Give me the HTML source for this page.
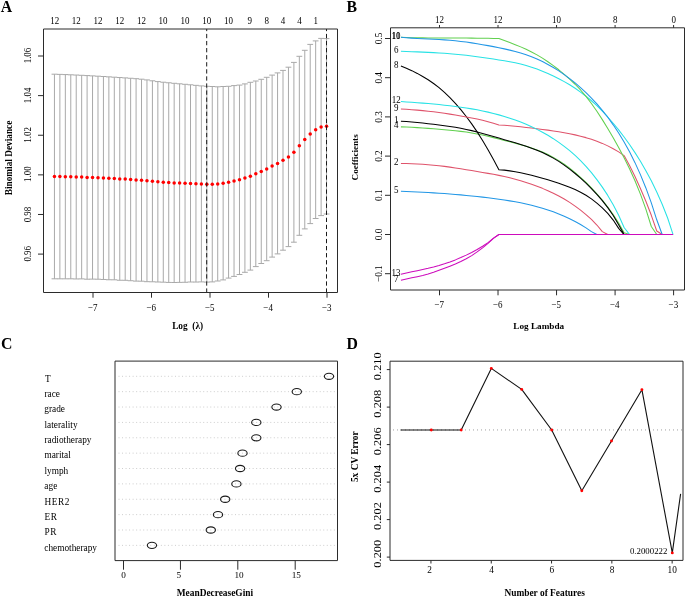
<!DOCTYPE html>
<html><head><meta charset="utf-8"><style>
html,body{margin:0;padding:0;background:#fff;overflow:hidden;}
svg{display:block;will-change:transform;}
text{font-family:"Liberation Serif", serif;}
</style></head><body>
<svg width="685" height="596" viewBox="0 0 685 596">
<rect width="685" height="596" fill="#fff"/>
<text x="0.65" y="11.50" font-size="15.8" font-weight="bold" fill="#000">A</text>
<text x="346.42" y="11.60" font-size="15.8" font-weight="bold" fill="#000">B</text>
<text x="1.06" y="349.10" font-size="15.8" font-weight="bold" fill="#000">C</text>
<text x="346.44" y="348.80" font-size="15.8" font-weight="bold" fill="#000">D</text>
<clipPath id="clipA"><rect x="43.5" y="29.0" width="294.0" height="263.5"/></clipPath>
<g clip-path="url(#clipA)">
<line x1="54.45" y1="74.20" x2="54.45" y2="278.80" stroke="#a9a9a9" stroke-width="1"/>
<line x1="51.55" y1="74.20" x2="57.35" y2="74.20" stroke="#a9a9a9" stroke-width="1"/>
<line x1="51.55" y1="278.80" x2="57.35" y2="278.80" stroke="#a9a9a9" stroke-width="1"/>
<line x1="59.89" y1="74.38" x2="59.89" y2="278.82" stroke="#a9a9a9" stroke-width="1"/>
<line x1="56.99" y1="74.38" x2="62.79" y2="74.38" stroke="#a9a9a9" stroke-width="1"/>
<line x1="56.99" y1="278.82" x2="62.79" y2="278.82" stroke="#a9a9a9" stroke-width="1"/>
<line x1="65.33" y1="74.58" x2="65.33" y2="278.82" stroke="#a9a9a9" stroke-width="1"/>
<line x1="62.43" y1="74.58" x2="68.23" y2="74.58" stroke="#a9a9a9" stroke-width="1"/>
<line x1="62.43" y1="278.82" x2="68.23" y2="278.82" stroke="#a9a9a9" stroke-width="1"/>
<line x1="70.78" y1="74.80" x2="70.78" y2="278.80" stroke="#a9a9a9" stroke-width="1"/>
<line x1="67.88" y1="74.80" x2="73.68" y2="74.80" stroke="#a9a9a9" stroke-width="1"/>
<line x1="67.88" y1="278.80" x2="73.68" y2="278.80" stroke="#a9a9a9" stroke-width="1"/>
<line x1="76.22" y1="75.04" x2="76.22" y2="278.96" stroke="#a9a9a9" stroke-width="1"/>
<line x1="73.32" y1="75.04" x2="79.12" y2="75.04" stroke="#a9a9a9" stroke-width="1"/>
<line x1="73.32" y1="278.96" x2="79.12" y2="278.96" stroke="#a9a9a9" stroke-width="1"/>
<line x1="81.66" y1="75.31" x2="81.66" y2="278.89" stroke="#a9a9a9" stroke-width="1"/>
<line x1="78.76" y1="75.31" x2="84.56" y2="75.31" stroke="#a9a9a9" stroke-width="1"/>
<line x1="78.76" y1="278.89" x2="84.56" y2="278.89" stroke="#a9a9a9" stroke-width="1"/>
<line x1="87.10" y1="75.59" x2="87.10" y2="279.21" stroke="#a9a9a9" stroke-width="1"/>
<line x1="84.20" y1="75.59" x2="90.00" y2="75.59" stroke="#a9a9a9" stroke-width="1"/>
<line x1="84.20" y1="279.21" x2="90.00" y2="279.21" stroke="#a9a9a9" stroke-width="1"/>
<line x1="92.54" y1="75.88" x2="92.54" y2="279.12" stroke="#a9a9a9" stroke-width="1"/>
<line x1="89.64" y1="75.88" x2="95.44" y2="75.88" stroke="#a9a9a9" stroke-width="1"/>
<line x1="89.64" y1="279.12" x2="95.44" y2="279.12" stroke="#a9a9a9" stroke-width="1"/>
<line x1="97.99" y1="76.19" x2="97.99" y2="279.21" stroke="#a9a9a9" stroke-width="1"/>
<line x1="95.09" y1="76.19" x2="100.89" y2="76.19" stroke="#a9a9a9" stroke-width="1"/>
<line x1="95.09" y1="279.21" x2="100.89" y2="279.21" stroke="#a9a9a9" stroke-width="1"/>
<line x1="103.43" y1="76.52" x2="103.43" y2="279.48" stroke="#a9a9a9" stroke-width="1"/>
<line x1="100.53" y1="76.52" x2="106.33" y2="76.52" stroke="#a9a9a9" stroke-width="1"/>
<line x1="100.53" y1="279.48" x2="106.33" y2="279.48" stroke="#a9a9a9" stroke-width="1"/>
<line x1="108.87" y1="76.85" x2="108.87" y2="279.75" stroke="#a9a9a9" stroke-width="1"/>
<line x1="105.97" y1="76.85" x2="111.77" y2="76.85" stroke="#a9a9a9" stroke-width="1"/>
<line x1="105.97" y1="279.75" x2="111.77" y2="279.75" stroke="#a9a9a9" stroke-width="1"/>
<line x1="114.31" y1="77.19" x2="114.31" y2="279.81" stroke="#a9a9a9" stroke-width="1"/>
<line x1="111.41" y1="77.19" x2="117.21" y2="77.19" stroke="#a9a9a9" stroke-width="1"/>
<line x1="111.41" y1="279.81" x2="117.21" y2="279.81" stroke="#a9a9a9" stroke-width="1"/>
<line x1="119.75" y1="77.54" x2="119.75" y2="280.26" stroke="#a9a9a9" stroke-width="1"/>
<line x1="116.85" y1="77.54" x2="122.65" y2="77.54" stroke="#a9a9a9" stroke-width="1"/>
<line x1="116.85" y1="280.26" x2="122.65" y2="280.26" stroke="#a9a9a9" stroke-width="1"/>
<line x1="125.20" y1="77.90" x2="125.20" y2="280.30" stroke="#a9a9a9" stroke-width="1"/>
<line x1="122.30" y1="77.90" x2="128.10" y2="77.90" stroke="#a9a9a9" stroke-width="1"/>
<line x1="122.30" y1="280.30" x2="128.10" y2="280.30" stroke="#a9a9a9" stroke-width="1"/>
<line x1="130.64" y1="78.27" x2="130.64" y2="280.73" stroke="#a9a9a9" stroke-width="1"/>
<line x1="127.74" y1="78.27" x2="133.54" y2="78.27" stroke="#a9a9a9" stroke-width="1"/>
<line x1="127.74" y1="280.73" x2="133.54" y2="280.73" stroke="#a9a9a9" stroke-width="1"/>
<line x1="136.08" y1="78.69" x2="136.08" y2="281.11" stroke="#a9a9a9" stroke-width="1"/>
<line x1="133.18" y1="78.69" x2="138.98" y2="78.69" stroke="#a9a9a9" stroke-width="1"/>
<line x1="133.18" y1="281.11" x2="138.98" y2="281.11" stroke="#a9a9a9" stroke-width="1"/>
<line x1="141.52" y1="79.20" x2="141.52" y2="281.20" stroke="#a9a9a9" stroke-width="1"/>
<line x1="138.62" y1="79.20" x2="144.42" y2="79.20" stroke="#a9a9a9" stroke-width="1"/>
<line x1="138.62" y1="281.20" x2="144.42" y2="281.20" stroke="#a9a9a9" stroke-width="1"/>
<line x1="146.96" y1="79.92" x2="146.96" y2="281.68" stroke="#a9a9a9" stroke-width="1"/>
<line x1="144.06" y1="79.92" x2="149.86" y2="79.92" stroke="#a9a9a9" stroke-width="1"/>
<line x1="144.06" y1="281.68" x2="149.86" y2="281.68" stroke="#a9a9a9" stroke-width="1"/>
<line x1="152.41" y1="80.81" x2="152.41" y2="281.79" stroke="#a9a9a9" stroke-width="1"/>
<line x1="149.51" y1="80.81" x2="155.31" y2="80.81" stroke="#a9a9a9" stroke-width="1"/>
<line x1="149.51" y1="281.79" x2="155.31" y2="281.79" stroke="#a9a9a9" stroke-width="1"/>
<line x1="157.85" y1="81.60" x2="157.85" y2="282.00" stroke="#a9a9a9" stroke-width="1"/>
<line x1="154.95" y1="81.60" x2="160.75" y2="81.60" stroke="#a9a9a9" stroke-width="1"/>
<line x1="154.95" y1="282.00" x2="160.75" y2="282.00" stroke="#a9a9a9" stroke-width="1"/>
<line x1="163.29" y1="82.22" x2="163.29" y2="282.18" stroke="#a9a9a9" stroke-width="1"/>
<line x1="160.39" y1="82.22" x2="166.19" y2="82.22" stroke="#a9a9a9" stroke-width="1"/>
<line x1="160.39" y1="282.18" x2="166.19" y2="282.18" stroke="#a9a9a9" stroke-width="1"/>
<line x1="168.73" y1="82.77" x2="168.73" y2="282.43" stroke="#a9a9a9" stroke-width="1"/>
<line x1="165.83" y1="82.77" x2="171.63" y2="82.77" stroke="#a9a9a9" stroke-width="1"/>
<line x1="165.83" y1="282.43" x2="171.63" y2="282.43" stroke="#a9a9a9" stroke-width="1"/>
<line x1="174.17" y1="83.30" x2="174.17" y2="282.50" stroke="#a9a9a9" stroke-width="1"/>
<line x1="171.27" y1="83.30" x2="177.07" y2="83.30" stroke="#a9a9a9" stroke-width="1"/>
<line x1="171.27" y1="282.50" x2="177.07" y2="282.50" stroke="#a9a9a9" stroke-width="1"/>
<line x1="179.62" y1="83.81" x2="179.62" y2="282.39" stroke="#a9a9a9" stroke-width="1"/>
<line x1="176.72" y1="83.81" x2="182.52" y2="83.81" stroke="#a9a9a9" stroke-width="1"/>
<line x1="176.72" y1="282.39" x2="182.52" y2="282.39" stroke="#a9a9a9" stroke-width="1"/>
<line x1="185.06" y1="84.31" x2="185.06" y2="282.29" stroke="#a9a9a9" stroke-width="1"/>
<line x1="182.16" y1="84.31" x2="187.96" y2="84.31" stroke="#a9a9a9" stroke-width="1"/>
<line x1="182.16" y1="282.29" x2="187.96" y2="282.29" stroke="#a9a9a9" stroke-width="1"/>
<line x1="190.50" y1="84.80" x2="190.50" y2="282.00" stroke="#a9a9a9" stroke-width="1"/>
<line x1="187.60" y1="84.80" x2="193.40" y2="84.80" stroke="#a9a9a9" stroke-width="1"/>
<line x1="187.60" y1="282.00" x2="193.40" y2="282.00" stroke="#a9a9a9" stroke-width="1"/>
<line x1="195.94" y1="85.35" x2="195.94" y2="282.05" stroke="#a9a9a9" stroke-width="1"/>
<line x1="193.04" y1="85.35" x2="198.84" y2="85.35" stroke="#a9a9a9" stroke-width="1"/>
<line x1="193.04" y1="282.05" x2="198.84" y2="282.05" stroke="#a9a9a9" stroke-width="1"/>
<line x1="201.38" y1="85.90" x2="201.38" y2="281.90" stroke="#a9a9a9" stroke-width="1"/>
<line x1="198.48" y1="85.90" x2="204.28" y2="85.90" stroke="#a9a9a9" stroke-width="1"/>
<line x1="198.48" y1="281.90" x2="204.28" y2="281.90" stroke="#a9a9a9" stroke-width="1"/>
<line x1="206.83" y1="86.30" x2="206.83" y2="282.10" stroke="#a9a9a9" stroke-width="1"/>
<line x1="203.93" y1="86.30" x2="209.73" y2="86.30" stroke="#a9a9a9" stroke-width="1"/>
<line x1="203.93" y1="282.10" x2="209.73" y2="282.10" stroke="#a9a9a9" stroke-width="1"/>
<line x1="212.27" y1="86.50" x2="212.27" y2="281.90" stroke="#a9a9a9" stroke-width="1"/>
<line x1="209.37" y1="86.50" x2="215.17" y2="86.50" stroke="#a9a9a9" stroke-width="1"/>
<line x1="209.37" y1="281.90" x2="215.17" y2="281.90" stroke="#a9a9a9" stroke-width="1"/>
<line x1="217.71" y1="86.80" x2="217.71" y2="281.00" stroke="#a9a9a9" stroke-width="1"/>
<line x1="214.81" y1="86.80" x2="220.61" y2="86.80" stroke="#a9a9a9" stroke-width="1"/>
<line x1="214.81" y1="281.00" x2="220.61" y2="281.00" stroke="#a9a9a9" stroke-width="1"/>
<line x1="223.15" y1="86.50" x2="223.15" y2="279.90" stroke="#a9a9a9" stroke-width="1"/>
<line x1="220.25" y1="86.50" x2="226.05" y2="86.50" stroke="#a9a9a9" stroke-width="1"/>
<line x1="220.25" y1="279.90" x2="226.05" y2="279.90" stroke="#a9a9a9" stroke-width="1"/>
<line x1="228.59" y1="86.30" x2="228.59" y2="278.10" stroke="#a9a9a9" stroke-width="1"/>
<line x1="225.69" y1="86.30" x2="231.49" y2="86.30" stroke="#a9a9a9" stroke-width="1"/>
<line x1="225.69" y1="278.10" x2="231.49" y2="278.10" stroke="#a9a9a9" stroke-width="1"/>
<line x1="234.04" y1="85.60" x2="234.04" y2="276.40" stroke="#a9a9a9" stroke-width="1"/>
<line x1="231.14" y1="85.60" x2="236.94" y2="85.60" stroke="#a9a9a9" stroke-width="1"/>
<line x1="231.14" y1="276.40" x2="236.94" y2="276.40" stroke="#a9a9a9" stroke-width="1"/>
<line x1="239.48" y1="85.10" x2="239.48" y2="274.50" stroke="#a9a9a9" stroke-width="1"/>
<line x1="236.58" y1="85.10" x2="242.38" y2="85.10" stroke="#a9a9a9" stroke-width="1"/>
<line x1="236.58" y1="274.50" x2="242.38" y2="274.50" stroke="#a9a9a9" stroke-width="1"/>
<line x1="244.92" y1="83.90" x2="244.92" y2="272.30" stroke="#a9a9a9" stroke-width="1"/>
<line x1="242.02" y1="83.90" x2="247.82" y2="83.90" stroke="#a9a9a9" stroke-width="1"/>
<line x1="242.02" y1="272.30" x2="247.82" y2="272.30" stroke="#a9a9a9" stroke-width="1"/>
<line x1="250.36" y1="82.30" x2="250.36" y2="270.10" stroke="#a9a9a9" stroke-width="1"/>
<line x1="247.46" y1="82.30" x2="253.26" y2="82.30" stroke="#a9a9a9" stroke-width="1"/>
<line x1="247.46" y1="270.10" x2="253.26" y2="270.10" stroke="#a9a9a9" stroke-width="1"/>
<line x1="255.80" y1="81.00" x2="255.80" y2="266.60" stroke="#a9a9a9" stroke-width="1"/>
<line x1="252.90" y1="81.00" x2="258.70" y2="81.00" stroke="#a9a9a9" stroke-width="1"/>
<line x1="252.90" y1="266.60" x2="258.70" y2="266.60" stroke="#a9a9a9" stroke-width="1"/>
<line x1="261.25" y1="79.30" x2="261.25" y2="263.50" stroke="#a9a9a9" stroke-width="1"/>
<line x1="258.35" y1="79.30" x2="264.15" y2="79.30" stroke="#a9a9a9" stroke-width="1"/>
<line x1="258.35" y1="263.50" x2="264.15" y2="263.50" stroke="#a9a9a9" stroke-width="1"/>
<line x1="266.69" y1="77.30" x2="266.69" y2="260.70" stroke="#a9a9a9" stroke-width="1"/>
<line x1="263.79" y1="77.30" x2="269.59" y2="77.30" stroke="#a9a9a9" stroke-width="1"/>
<line x1="263.79" y1="260.70" x2="269.59" y2="260.70" stroke="#a9a9a9" stroke-width="1"/>
<line x1="272.13" y1="75.10" x2="272.13" y2="257.10" stroke="#a9a9a9" stroke-width="1"/>
<line x1="269.23" y1="75.10" x2="275.03" y2="75.10" stroke="#a9a9a9" stroke-width="1"/>
<line x1="269.23" y1="257.10" x2="275.03" y2="257.10" stroke="#a9a9a9" stroke-width="1"/>
<line x1="277.57" y1="72.90" x2="277.57" y2="253.90" stroke="#a9a9a9" stroke-width="1"/>
<line x1="274.67" y1="72.90" x2="280.47" y2="72.90" stroke="#a9a9a9" stroke-width="1"/>
<line x1="274.67" y1="253.90" x2="280.47" y2="253.90" stroke="#a9a9a9" stroke-width="1"/>
<line x1="283.01" y1="70.40" x2="283.01" y2="250.20" stroke="#a9a9a9" stroke-width="1"/>
<line x1="280.11" y1="70.40" x2="285.91" y2="70.40" stroke="#a9a9a9" stroke-width="1"/>
<line x1="280.11" y1="250.20" x2="285.91" y2="250.20" stroke="#a9a9a9" stroke-width="1"/>
<line x1="288.46" y1="67.20" x2="288.46" y2="246.60" stroke="#a9a9a9" stroke-width="1"/>
<line x1="285.56" y1="67.20" x2="291.36" y2="67.20" stroke="#a9a9a9" stroke-width="1"/>
<line x1="285.56" y1="246.60" x2="291.36" y2="246.60" stroke="#a9a9a9" stroke-width="1"/>
<line x1="293.90" y1="62.40" x2="293.90" y2="242.20" stroke="#a9a9a9" stroke-width="1"/>
<line x1="291.00" y1="62.40" x2="296.80" y2="62.40" stroke="#a9a9a9" stroke-width="1"/>
<line x1="291.00" y1="242.20" x2="296.80" y2="242.20" stroke="#a9a9a9" stroke-width="1"/>
<line x1="299.34" y1="56.30" x2="299.34" y2="235.30" stroke="#a9a9a9" stroke-width="1"/>
<line x1="296.44" y1="56.30" x2="302.24" y2="56.30" stroke="#a9a9a9" stroke-width="1"/>
<line x1="296.44" y1="235.30" x2="302.24" y2="235.30" stroke="#a9a9a9" stroke-width="1"/>
<line x1="304.78" y1="50.30" x2="304.78" y2="228.90" stroke="#a9a9a9" stroke-width="1"/>
<line x1="301.88" y1="50.30" x2="307.68" y2="50.30" stroke="#a9a9a9" stroke-width="1"/>
<line x1="301.88" y1="228.90" x2="307.68" y2="228.90" stroke="#a9a9a9" stroke-width="1"/>
<line x1="310.22" y1="44.40" x2="310.22" y2="223.60" stroke="#a9a9a9" stroke-width="1"/>
<line x1="307.32" y1="44.40" x2="313.12" y2="44.40" stroke="#a9a9a9" stroke-width="1"/>
<line x1="307.32" y1="223.60" x2="313.12" y2="223.60" stroke="#a9a9a9" stroke-width="1"/>
<line x1="315.67" y1="40.90" x2="315.67" y2="218.50" stroke="#a9a9a9" stroke-width="1"/>
<line x1="312.77" y1="40.90" x2="318.57" y2="40.90" stroke="#a9a9a9" stroke-width="1"/>
<line x1="312.77" y1="218.50" x2="318.57" y2="218.50" stroke="#a9a9a9" stroke-width="1"/>
<line x1="321.11" y1="38.40" x2="321.11" y2="215.60" stroke="#a9a9a9" stroke-width="1"/>
<line x1="318.21" y1="38.40" x2="324.01" y2="38.40" stroke="#a9a9a9" stroke-width="1"/>
<line x1="318.21" y1="215.60" x2="324.01" y2="215.60" stroke="#a9a9a9" stroke-width="1"/>
<line x1="326.55" y1="38.60" x2="326.55" y2="214.00" stroke="#a9a9a9" stroke-width="1"/>
<line x1="323.65" y1="38.60" x2="329.45" y2="38.60" stroke="#a9a9a9" stroke-width="1"/>
<line x1="323.65" y1="214.00" x2="329.45" y2="214.00" stroke="#a9a9a9" stroke-width="1"/>
<circle cx="54.45" cy="176.50" r="1.75" fill="#f00"/>
<circle cx="59.89" cy="176.60" r="1.75" fill="#f00"/>
<circle cx="65.33" cy="176.70" r="1.75" fill="#f00"/>
<circle cx="70.78" cy="176.80" r="1.75" fill="#f00"/>
<circle cx="76.22" cy="177.00" r="1.75" fill="#f00"/>
<circle cx="81.66" cy="177.10" r="1.75" fill="#f00"/>
<circle cx="87.10" cy="177.40" r="1.75" fill="#f00"/>
<circle cx="92.54" cy="177.50" r="1.75" fill="#f00"/>
<circle cx="97.99" cy="177.70" r="1.75" fill="#f00"/>
<circle cx="103.43" cy="178.00" r="1.75" fill="#f00"/>
<circle cx="108.87" cy="178.30" r="1.75" fill="#f00"/>
<circle cx="114.31" cy="178.50" r="1.75" fill="#f00"/>
<circle cx="119.75" cy="178.90" r="1.75" fill="#f00"/>
<circle cx="125.20" cy="179.10" r="1.75" fill="#f00"/>
<circle cx="130.64" cy="179.50" r="1.75" fill="#f00"/>
<circle cx="136.08" cy="179.90" r="1.75" fill="#f00"/>
<circle cx="141.52" cy="180.20" r="1.75" fill="#f00"/>
<circle cx="146.96" cy="180.80" r="1.75" fill="#f00"/>
<circle cx="152.41" cy="181.30" r="1.75" fill="#f00"/>
<circle cx="157.85" cy="181.80" r="1.75" fill="#f00"/>
<circle cx="163.29" cy="182.20" r="1.75" fill="#f00"/>
<circle cx="168.73" cy="182.60" r="1.75" fill="#f00"/>
<circle cx="174.17" cy="182.90" r="1.75" fill="#f00"/>
<circle cx="179.62" cy="183.10" r="1.75" fill="#f00"/>
<circle cx="185.06" cy="183.30" r="1.75" fill="#f00"/>
<circle cx="190.50" cy="183.40" r="1.75" fill="#f00"/>
<circle cx="195.94" cy="183.70" r="1.75" fill="#f00"/>
<circle cx="201.38" cy="183.90" r="1.75" fill="#f00"/>
<circle cx="206.83" cy="184.20" r="1.75" fill="#f00"/>
<circle cx="212.27" cy="184.20" r="1.75" fill="#f00"/>
<circle cx="217.71" cy="183.90" r="1.75" fill="#f00"/>
<circle cx="223.15" cy="183.20" r="1.75" fill="#f00"/>
<circle cx="228.59" cy="182.20" r="1.75" fill="#f00"/>
<circle cx="234.04" cy="181.00" r="1.75" fill="#f00"/>
<circle cx="239.48" cy="179.80" r="1.75" fill="#f00"/>
<circle cx="244.92" cy="178.10" r="1.75" fill="#f00"/>
<circle cx="250.36" cy="176.20" r="1.75" fill="#f00"/>
<circle cx="255.80" cy="173.80" r="1.75" fill="#f00"/>
<circle cx="261.25" cy="171.40" r="1.75" fill="#f00"/>
<circle cx="266.69" cy="169.00" r="1.75" fill="#f00"/>
<circle cx="272.13" cy="166.10" r="1.75" fill="#f00"/>
<circle cx="277.57" cy="163.40" r="1.75" fill="#f00"/>
<circle cx="283.01" cy="160.30" r="1.75" fill="#f00"/>
<circle cx="288.46" cy="156.90" r="1.75" fill="#f00"/>
<circle cx="293.90" cy="152.30" r="1.75" fill="#f00"/>
<circle cx="299.34" cy="145.80" r="1.75" fill="#f00"/>
<circle cx="304.78" cy="139.60" r="1.75" fill="#f00"/>
<circle cx="310.22" cy="134.00" r="1.75" fill="#f00"/>
<circle cx="315.67" cy="129.70" r="1.75" fill="#f00"/>
<circle cx="321.11" cy="127.00" r="1.75" fill="#f00"/>
<circle cx="326.55" cy="126.30" r="1.75" fill="#f00"/>
<line x1="206.70" y1="26.83" x2="206.70" y2="294.00" stroke="#1a1a1a" stroke-width="1" stroke-dasharray="4.3 2.77"/>
<line x1="326.50" y1="26.83" x2="326.50" y2="294.00" stroke="#1a1a1a" stroke-width="1" stroke-dasharray="4.3 2.77"/>
</g>
<path d="M43.50,29.00H337.50V292.50H43.50Z" fill="none" stroke="#2b2b2b" stroke-width="1"/>
<line x1="38.00" y1="254.10" x2="43.50" y2="254.10" stroke="#2b2b2b" stroke-width="1"/>
<text transform="translate(31.20,261.62) rotate(-90) scale(1,1.08)" font-size="8.9" fill="#000">0.96</text>
<line x1="38.00" y1="214.48" x2="43.50" y2="214.48" stroke="#2b2b2b" stroke-width="1"/>
<text transform="translate(31.20,222.37) rotate(-90) scale(1,1.08)" font-size="8.9" fill="#000">0.98</text>
<line x1="38.00" y1="174.86" x2="43.50" y2="174.86" stroke="#2b2b2b" stroke-width="1"/>
<text transform="translate(31.20,181.97) rotate(-90) scale(1,1.08)" font-size="8.9" fill="#000">1.00</text>
<line x1="38.00" y1="135.24" x2="43.50" y2="135.24" stroke="#2b2b2b" stroke-width="1"/>
<text transform="translate(31.20,142.67) rotate(-90) scale(1,1.08)" font-size="8.9" fill="#000">1.02</text>
<line x1="38.00" y1="95.62" x2="43.50" y2="95.62" stroke="#2b2b2b" stroke-width="1"/>
<text transform="translate(31.20,103.23) rotate(-90) scale(1,1.08)" font-size="8.9" fill="#000">1.04</text>
<line x1="38.00" y1="56.00" x2="43.50" y2="56.00" stroke="#2b2b2b" stroke-width="1"/>
<text transform="translate(31.20,63.30) rotate(-90) scale(1,1.08)" font-size="8.9" fill="#000">1.06</text>
<line x1="93.00" y1="292.50" x2="93.00" y2="297.70" stroke="#2b2b2b" stroke-width="1"/>
<text transform="translate(88.37,310.70) scale(1.0,1.12)" x="-0.45" font-size="9.0" fill="#000">−7</text>
<line x1="151.50" y1="292.50" x2="151.50" y2="297.70" stroke="#2b2b2b" stroke-width="1"/>
<text transform="translate(146.87,310.70) scale(1.0,1.12)" x="-0.45" font-size="9.0" fill="#000">−6</text>
<line x1="210.00" y1="292.50" x2="210.00" y2="297.70" stroke="#2b2b2b" stroke-width="1"/>
<text transform="translate(205.41,310.70) scale(1.0,1.12)" x="-0.45" font-size="9.0" fill="#000">−5</text>
<line x1="268.50" y1="292.50" x2="268.50" y2="297.70" stroke="#2b2b2b" stroke-width="1"/>
<text transform="translate(263.81,310.70) scale(1.0,1.12)" x="-0.45" font-size="9.0" fill="#000">−4</text>
<line x1="327.00" y1="292.50" x2="327.00" y2="297.70" stroke="#2b2b2b" stroke-width="1"/>
<text transform="translate(322.41,310.70) scale(1.0,1.12)" x="-0.45" font-size="9.0" fill="#000">−3</text>
<text transform="translate(50.94,23.70) scale(1.0,1.12)" x="-0.79" font-size="9.0" fill="#000">12</text>
<text transform="translate(72.64,23.70) scale(1.0,1.12)" x="-0.79" font-size="9.0" fill="#000">12</text>
<text transform="translate(94.34,23.70) scale(1.0,1.12)" x="-0.79" font-size="9.0" fill="#000">12</text>
<text transform="translate(116.04,23.70) scale(1.0,1.12)" x="-0.79" font-size="9.0" fill="#000">12</text>
<text transform="translate(137.74,23.70) scale(1.0,1.12)" x="-0.79" font-size="9.0" fill="#000">12</text>
<text transform="translate(159.37,23.70) scale(1.0,1.12)" x="-0.79" font-size="9.0" fill="#000">10</text>
<text transform="translate(181.17,23.70) scale(1.0,1.12)" x="-0.79" font-size="9.0" fill="#000">10</text>
<text transform="translate(202.97,23.70) scale(1.0,1.12)" x="-0.79" font-size="9.0" fill="#000">10</text>
<text transform="translate(224.77,23.70) scale(1.0,1.12)" x="-0.79" font-size="9.0" fill="#000">10</text>
<text transform="translate(247.78,23.70) scale(1.0,1.12)" x="-0.29" font-size="9.0" fill="#000">9</text>
<text transform="translate(264.79,23.70) scale(1.0,1.12)" x="-0.34" font-size="9.0" fill="#000">8</text>
<text transform="translate(281.01,23.70) scale(1.0,1.12)" x="-0.18" font-size="9.0" fill="#000">4</text>
<text transform="translate(297.41,23.70) scale(1.0,1.12)" x="-0.18" font-size="9.0" fill="#000">4</text>
<text transform="translate(314.22,23.70) scale(1.0,1.12)" x="-0.79" font-size="9.0" fill="#000">1</text>
<text transform="translate(11.80,195.28) rotate(-90)" font-size="9.3" font-weight="bold" fill="#000">Binomial Deviance</text>
<text x="172.17" y="329.40" font-size="9.3" font-weight="bold" fill="#000">Log  (λ)</text>
<clipPath id="clipB"><rect x="390.5" y="27.8" width="294.0" height="262.2"/></clipPath>
<g clip-path="url(#clipB)">
<polyline points="400.93,126.86 406.37,127.03 411.82,127.29 417.26,127.61 422.70,127.97 428.14,128.36 433.59,128.78 439.03,129.22 444.47,129.68 449.92,130.17 455.36,130.73 460.80,131.36 466.25,132.09 471.69,132.94 477.13,133.92 482.57,135.03 488.02,136.28 493.46,137.63 498.90,139.03 504.35,140.44 509.79,141.85 515.23,143.27 520.68,144.75 526.12,146.32 531.56,148.02 537.00,149.91 542.45,152.08 547.89,154.57 553.33,157.42 558.78,160.63 564.22,164.23 569.66,168.23 575.11,172.60 580.55,177.35 585.99,182.44 591.43,187.90 596.88,193.78 602.32,200.13 607.76,207.01 613.21,214.60 618.65,223.13 624.09,232.85 629.54,234.55" fill="none" stroke="#61D04F" stroke-width="1.05" stroke-linejoin="round"/>
<polyline points="400.93,121.15 406.37,121.54 411.82,122.00 417.26,122.52 422.70,123.09 428.14,123.69 433.59,124.33 439.03,125.01 444.47,125.72 449.92,126.49 455.36,127.35 460.80,128.31 466.25,129.40 471.69,130.62 477.13,131.96 482.57,133.40 488.02,134.93 493.46,136.50 498.90,138.09 504.35,139.66 509.79,141.23 515.23,142.83 520.68,144.49 526.12,146.25 531.56,148.15 537.00,150.24 542.45,152.57 547.89,155.19 553.33,158.13 558.78,161.42 564.22,165.09 569.66,169.12 575.11,173.49 580.55,178.19 585.99,183.21 591.43,188.60 596.88,194.40 602.32,200.68 607.76,207.64 613.21,215.57 618.65,224.77 624.09,234.55" fill="none" stroke="#000000" stroke-width="1.05" stroke-linejoin="round"/>
<polyline points="400.93,163.47 406.37,163.52 411.82,163.68 417.26,163.93 422.70,164.27 428.14,164.67 433.59,165.15 439.03,165.72 444.47,166.37 449.92,167.11 455.36,167.92 460.80,168.78 466.25,169.67 471.69,170.59 477.13,171.52 482.57,172.45 488.02,173.38 493.46,174.34 498.90,175.38 504.35,176.52 509.79,177.78 515.23,179.17 520.68,180.71 526.12,182.40 531.56,184.23 537.00,186.22 542.45,188.36 547.89,190.66 553.33,193.17 558.78,195.93 564.22,199.00 569.66,202.40 575.11,206.13 580.55,210.17 585.99,214.54 591.43,219.40 596.88,225.01 602.32,231.62 607.76,234.55" fill="none" stroke="#DF536B" stroke-width="1.05" stroke-linejoin="round"/>
<polyline points="400.93,191.18 406.37,191.48 411.82,191.76 417.26,192.03 422.70,192.30 428.14,192.58 433.59,192.88 439.03,193.21 444.47,193.58 449.92,193.98 455.36,194.42 460.80,194.89 466.25,195.40 471.69,195.94 477.13,196.52 482.57,197.14 488.02,197.79 493.46,198.48 498.90,199.23 504.35,200.02 509.79,200.88 515.23,201.82 520.68,202.84 526.12,203.98 531.56,205.25 537.00,206.66 542.45,208.21 547.89,209.93 553.33,211.83 558.78,213.91 564.22,216.20 569.66,218.71 575.11,221.47 580.55,224.51 585.99,227.89 591.43,231.64 596.88,234.55" fill="none" stroke="#2297E6" stroke-width="1.05" stroke-linejoin="round"/>
<polyline points="400.93,51.28 406.37,51.45 411.82,51.65 417.26,51.87 422.70,52.11 428.14,52.36 433.59,52.62 439.03,52.92 444.47,53.27 449.92,53.67 455.36,54.15 460.80,54.70 466.25,55.31 471.69,55.97 477.13,56.69 482.57,57.46 488.02,58.26 493.46,59.08 498.90,59.92 504.35,60.78 509.79,61.71 515.23,62.76 520.68,63.99 526.12,65.46 531.56,67.15 537.00,69.07 542.45,71.19 547.89,73.50 553.33,75.99 558.78,78.68 564.22,81.61 569.66,84.79 575.11,88.27 580.55,92.06 585.99,96.21 591.43,100.75 596.88,105.72 602.32,111.14 607.76,116.98 613.21,123.25 618.65,129.93 624.09,137.02 629.54,144.56 634.98,152.64 640.42,161.32 645.87,170.67 651.31,180.82 656.75,191.96 662.19,204.29 667.64,217.99 673.08,234.55" fill="none" stroke="#28E2E5" stroke-width="1.05" stroke-linejoin="round"/>
<polyline points="400.93,280.20 406.37,279.00 411.82,277.86 417.26,276.68 422.70,275.39 428.14,273.91 433.59,272.20 439.03,270.30 444.47,268.29 449.92,266.17 455.36,263.93 460.80,261.51 466.25,258.77 471.69,255.58 477.13,251.93 482.57,247.86 488.02,243.36 493.46,238.36 498.90,234.55" fill="none" stroke="#CD0BBC" stroke-width="1.05" stroke-linejoin="round"/>
<polyline points="400.93,66.03 406.37,68.18 411.82,70.65 417.26,73.41 422.70,76.44 428.14,79.76 433.59,83.47 439.03,87.63 444.47,92.32 449.92,97.57 455.36,103.35 460.80,109.65 466.25,116.49 471.69,123.89 477.13,131.90 482.57,140.54 488.02,149.78 493.46,159.52 498.90,169.67 504.35,170.12 509.79,170.86 515.23,171.79 520.68,172.84 526.12,173.99 531.56,175.27 537.00,176.68 542.45,178.21 547.89,179.83 553.33,181.51 558.78,183.26 564.22,185.15 569.66,187.22 575.11,189.55 580.55,192.21 585.99,195.30 591.43,198.90 596.88,203.05 602.32,207.82 607.76,213.35 613.21,220.05 618.65,228.36 624.09,234.55" fill="none" stroke="#000000" stroke-width="1.05" stroke-linejoin="round"/>
<polyline points="400.93,109.05 406.37,109.31 411.82,109.67 417.26,110.12 422.70,110.63 428.14,111.20 433.59,111.84 439.03,112.53 444.47,113.29 449.92,114.11 455.36,114.99 460.80,115.93 466.25,116.91 471.69,117.97 477.13,119.10 482.57,120.34 488.02,121.70 493.46,123.24 498.90,124.99 504.35,125.25 509.79,125.67 515.23,126.21 520.68,126.81 526.12,127.42 531.56,128.06 537.00,128.72 542.45,129.41 547.89,130.14 553.33,130.93 558.78,131.78 564.22,132.70 569.66,133.73 575.11,134.87 580.55,136.17 585.99,137.63 591.43,139.31 596.88,141.21 602.32,143.39 607.76,145.87 613.21,148.69 618.65,151.91 624.09,155.58 629.54,165.49 634.98,176.55 640.42,188.53 645.87,201.31 651.31,215.30 656.75,231.00 662.19,234.55" fill="none" stroke="#DF536B" stroke-width="1.05" stroke-linejoin="round"/>
<polyline points="400.93,37.26 406.37,37.50 411.82,37.67 417.26,37.79 422.70,37.86 428.14,37.91 433.59,37.94 439.03,37.97 444.47,37.99 449.92,38.01 455.36,38.03 460.80,38.05 466.25,38.08 471.69,38.11 477.13,38.16 482.57,38.22 488.02,38.30 493.46,38.41 498.90,38.55 504.35,40.56 509.79,42.57 515.23,44.66 520.68,46.88 526.12,49.30 531.56,51.97 537.00,54.90 542.45,58.14 547.89,61.71 553.33,65.60 558.78,69.79 564.22,74.28 569.66,79.06 575.11,84.25 580.55,89.97 585.99,96.35 591.43,103.47 596.88,111.28 602.32,119.65 607.76,128.49 613.21,137.71 618.65,147.41 624.09,157.73 629.54,168.79 634.98,180.78 640.42,194.09 645.87,209.17 651.31,226.47 656.75,234.55" fill="none" stroke="#61D04F" stroke-width="1.05" stroke-linejoin="round"/>
<polyline points="400.93,37.24 406.37,37.75 411.82,38.14 417.26,38.45 422.70,38.72 428.14,38.97 433.59,39.23 439.03,39.53 444.47,39.88 449.92,40.31 455.36,40.81 460.80,41.41 466.25,42.09 471.69,42.87 477.13,43.73 482.57,44.65 488.02,45.62 493.46,46.64 498.90,47.71 504.35,48.87 509.79,50.12 515.23,51.50 520.68,53.04 526.12,54.79 531.56,56.78 537.00,59.05 542.45,61.59 547.89,64.42 553.33,67.52 558.78,70.91 564.22,74.60 569.66,78.59 575.11,82.91 580.55,87.56 585.99,92.60 591.43,98.04 596.88,103.94 602.32,110.33 607.76,117.27 613.21,124.82 618.65,133.02 624.09,141.98 629.54,151.81 634.98,162.64 640.42,174.60 645.87,187.93 651.31,202.90 656.75,219.79 662.19,234.55" fill="none" stroke="#2297E6" stroke-width="1.05" stroke-linejoin="round"/>
<polyline points="400.93,101.56 406.37,101.91 411.82,102.28 417.26,102.69 422.70,103.13 428.14,103.59 433.59,104.08 439.03,104.60 444.47,105.17 449.92,105.78 455.36,106.44 460.80,107.17 466.25,107.98 471.69,108.87 477.13,109.85 482.57,110.94 488.02,112.13 493.46,113.44 498.90,114.87 504.35,116.43 509.79,118.13 515.23,119.99 520.68,122.03 526.12,124.26 531.56,126.69 537.00,129.35 542.45,132.22 547.89,135.32 553.33,138.68 558.78,142.33 564.22,146.33 569.66,150.69 575.11,155.47 580.55,160.70 585.99,166.43 591.43,172.69 596.88,179.57 602.32,187.11 607.76,195.40 613.21,204.67 618.65,215.25 624.09,227.45 629.54,234.55" fill="none" stroke="#28E2E5" stroke-width="1.05" stroke-linejoin="round"/>
<polyline points="400.93,274.31 406.37,272.98 411.82,271.80 417.26,270.68 422.70,269.51 428.14,268.28 433.59,266.92 439.03,265.43 444.47,263.78 449.92,261.94 455.36,259.89 460.80,257.60 466.25,255.11 471.69,252.43 477.13,249.50 482.57,246.27 488.02,242.57 493.46,238.15 498.90,234.55" fill="none" stroke="#CD0BBC" stroke-width="1.05" stroke-linejoin="round"/>
<line x1="498.90" y1="234.55" x2="673.08" y2="234.55" stroke="#CD0BBC" stroke-width="1.1"/>
</g>
<path d="M390.50,27.80H684.50V290.00H390.50Z" fill="none" stroke="#2b2b2b" stroke-width="1"/>
<line x1="385.00" y1="273.70" x2="390.50" y2="273.70" stroke="#2b2b2b" stroke-width="1"/>
<text transform="translate(382.30,282.00) rotate(-90) scale(1,1.08)" font-size="9.2" fill="#000">−0.1</text>
<line x1="385.00" y1="234.50" x2="390.50" y2="234.50" stroke="#2b2b2b" stroke-width="1"/>
<text transform="translate(382.30,240.25) rotate(-90) scale(1,1.08)" font-size="9.2" fill="#000">0.0</text>
<line x1="385.00" y1="195.30" x2="390.50" y2="195.30" stroke="#2b2b2b" stroke-width="1"/>
<text transform="translate(382.30,200.95) rotate(-90) scale(1,1.08)" font-size="9.2" fill="#000">0.1</text>
<line x1="385.00" y1="156.10" x2="390.50" y2="156.10" stroke="#2b2b2b" stroke-width="1"/>
<text transform="translate(382.30,161.77) rotate(-90) scale(1,1.08)" font-size="9.2" fill="#000">0.2</text>
<line x1="385.00" y1="116.90" x2="390.50" y2="116.90" stroke="#2b2b2b" stroke-width="1"/>
<text transform="translate(382.30,122.65) rotate(-90) scale(1,1.08)" font-size="9.2" fill="#000">0.3</text>
<line x1="385.00" y1="77.70" x2="390.50" y2="77.70" stroke="#2b2b2b" stroke-width="1"/>
<text transform="translate(382.30,83.55) rotate(-90) scale(1,1.08)" font-size="9.2" fill="#000">0.4</text>
<line x1="385.00" y1="38.50" x2="390.50" y2="38.50" stroke="#2b2b2b" stroke-width="1"/>
<text transform="translate(382.30,44.25) rotate(-90) scale(1,1.08)" font-size="9.2" fill="#000">0.5</text>
<line x1="439.50" y1="290.00" x2="439.50" y2="295.30" stroke="#2b2b2b" stroke-width="1"/>
<text transform="translate(434.87,308.40) scale(1.0,1.12)" x="-0.45" font-size="9.0" fill="#000">−7</text>
<line x1="439.50" y1="27.80" x2="439.50" y2="25.00" stroke="#2b2b2b" stroke-width="1"/>
<text transform="translate(435.84,22.70) scale(1.0,1.12)" x="-0.79" font-size="9.0" fill="#000">12</text>
<line x1="498.02" y1="290.00" x2="498.02" y2="295.30" stroke="#2b2b2b" stroke-width="1"/>
<text transform="translate(493.40,308.40) scale(1.0,1.12)" x="-0.45" font-size="9.0" fill="#000">−6</text>
<line x1="498.02" y1="27.80" x2="498.02" y2="25.00" stroke="#2b2b2b" stroke-width="1"/>
<text transform="translate(494.37,22.70) scale(1.0,1.12)" x="-0.79" font-size="9.0" fill="#000">12</text>
<line x1="556.55" y1="290.00" x2="556.55" y2="295.30" stroke="#2b2b2b" stroke-width="1"/>
<text transform="translate(551.96,308.40) scale(1.0,1.12)" x="-0.45" font-size="9.0" fill="#000">−5</text>
<line x1="556.55" y1="27.80" x2="556.55" y2="25.00" stroke="#2b2b2b" stroke-width="1"/>
<text transform="translate(552.82,22.70) scale(1.0,1.12)" x="-0.79" font-size="9.0" fill="#000">10</text>
<line x1="615.08" y1="290.00" x2="615.08" y2="295.30" stroke="#2b2b2b" stroke-width="1"/>
<text transform="translate(610.38,308.40) scale(1.0,1.12)" x="-0.45" font-size="9.0" fill="#000">−4</text>
<line x1="615.08" y1="27.80" x2="615.08" y2="25.00" stroke="#2b2b2b" stroke-width="1"/>
<text transform="translate(613.37,22.70) scale(1.0,1.12)" x="-0.34" font-size="9.0" fill="#000">8</text>
<line x1="673.60" y1="290.00" x2="673.60" y2="295.30" stroke="#2b2b2b" stroke-width="1"/>
<text transform="translate(669.01,308.40) scale(1.0,1.12)" x="-0.45" font-size="9.0" fill="#000">−3</text>
<line x1="673.60" y1="27.80" x2="673.60" y2="25.00" stroke="#2b2b2b" stroke-width="1"/>
<text transform="translate(671.89,22.70) scale(1.0,1.12)" x="-0.34" font-size="9.0" fill="#000">0</text>
<text transform="translate(392.37,38.80) scale(1.0,1.12)" x="-0.79" font-size="9.0" fill="#000">10</text>
<text transform="translate(392.47,38.80) scale(1.0,1.12)" x="-0.79" font-size="9.0" fill="#000">11</text>
<text transform="translate(394.38,53.00) scale(1.0,1.12)" x="-0.39" font-size="9.0" fill="#000">6</text>
<text transform="translate(394.39,68.00) scale(1.0,1.12)" x="-0.34" font-size="9.0" fill="#000">8</text>
<text transform="translate(392.44,102.90) scale(1.0,1.12)" x="-0.79" font-size="9.0" fill="#000">12</text>
<text transform="translate(394.38,110.70) scale(1.0,1.12)" x="-0.29" font-size="9.0" fill="#000">9</text>
<text transform="translate(394.72,123.00) scale(1.0,1.12)" x="-0.79" font-size="9.0" fill="#000">1</text>
<text transform="translate(394.21,128.40) scale(1.0,1.12)" x="-0.18" font-size="9.0" fill="#000">4</text>
<text transform="translate(394.50,165.10) scale(1.0,1.12)" x="-0.40" font-size="9.0" fill="#000">2</text>
<text transform="translate(394.49,193.00) scale(1.0,1.12)" x="-0.52" font-size="9.0" fill="#000">5</text>
<text transform="translate(392.37,276.00) scale(1.0,1.12)" x="-0.79" font-size="9.0" fill="#000">13</text>
<text transform="translate(394.48,282.00) scale(1.0,1.12)" x="-0.59" font-size="9.0" fill="#000">7</text>
<text transform="translate(358.40,180.43) rotate(-90)" font-size="9.15" font-weight="bold" fill="#000">Coefficients</text>
<text x="513.31" y="328.80" font-size="9.2" font-weight="bold" fill="#000">Log Lambda</text>
<line x1="118.50" y1="376.30" x2="336.00" y2="376.30" stroke="#cdcdcd" stroke-width="1" stroke-dasharray="1 2.53"/>
<line x1="118.50" y1="391.67" x2="336.00" y2="391.67" stroke="#cdcdcd" stroke-width="1" stroke-dasharray="1 2.53"/>
<line x1="118.50" y1="407.04" x2="336.00" y2="407.04" stroke="#cdcdcd" stroke-width="1" stroke-dasharray="1 2.53"/>
<line x1="118.50" y1="422.41" x2="336.00" y2="422.41" stroke="#cdcdcd" stroke-width="1" stroke-dasharray="1 2.53"/>
<line x1="118.50" y1="437.78" x2="336.00" y2="437.78" stroke="#cdcdcd" stroke-width="1" stroke-dasharray="1 2.53"/>
<line x1="118.50" y1="453.15" x2="336.00" y2="453.15" stroke="#cdcdcd" stroke-width="1" stroke-dasharray="1 2.53"/>
<line x1="118.50" y1="468.52" x2="336.00" y2="468.52" stroke="#cdcdcd" stroke-width="1" stroke-dasharray="1 2.53"/>
<line x1="118.50" y1="483.89" x2="336.00" y2="483.89" stroke="#cdcdcd" stroke-width="1" stroke-dasharray="1 2.53"/>
<line x1="118.50" y1="499.26" x2="336.00" y2="499.26" stroke="#cdcdcd" stroke-width="1" stroke-dasharray="1 2.53"/>
<line x1="118.50" y1="514.63" x2="336.00" y2="514.63" stroke="#cdcdcd" stroke-width="1" stroke-dasharray="1 2.53"/>
<line x1="118.50" y1="530.00" x2="336.00" y2="530.00" stroke="#cdcdcd" stroke-width="1" stroke-dasharray="1 2.53"/>
<line x1="118.50" y1="545.37" x2="336.00" y2="545.37" stroke="#cdcdcd" stroke-width="1" stroke-dasharray="1 2.53"/>
<ellipse cx="329.00" cy="376.30" rx="4.65" ry="3.1" fill="none" stroke="#1a1a1a" stroke-width="1.1"/>
<text x="45.03" y="381.60" font-size="9.3" fill="#000">T</text>
<ellipse cx="296.80" cy="391.67" rx="4.65" ry="3.1" fill="none" stroke="#1a1a1a" stroke-width="1.1"/>
<text x="44.51" y="396.97" font-size="9.3" fill="#000">race</text>
<ellipse cx="276.50" cy="407.04" rx="4.65" ry="3.1" fill="none" stroke="#1a1a1a" stroke-width="1.1"/>
<text x="44.30" y="412.34" font-size="9.3" fill="#000">grade</text>
<ellipse cx="256.30" cy="422.41" rx="4.65" ry="3.1" fill="none" stroke="#1a1a1a" stroke-width="1.1"/>
<text x="44.51" y="427.71" font-size="9.3" fill="#000">laterality</text>
<ellipse cx="256.30" cy="437.78" rx="4.65" ry="3.1" fill="none" stroke="#1a1a1a" stroke-width="1.1"/>
<text x="44.51" y="443.08" font-size="9.3" fill="#000">radiotherapy</text>
<ellipse cx="242.50" cy="453.15" rx="4.65" ry="3.1" fill="none" stroke="#1a1a1a" stroke-width="1.1"/>
<text x="44.50" y="458.45" font-size="9.3" fill="#000">marital</text>
<ellipse cx="240.10" cy="468.52" rx="4.65" ry="3.1" fill="none" stroke="#1a1a1a" stroke-width="1.1"/>
<text x="44.51" y="473.82" font-size="9.3" fill="#000">lymph</text>
<ellipse cx="236.40" cy="483.89" rx="4.65" ry="3.1" fill="none" stroke="#1a1a1a" stroke-width="1.1"/>
<text x="44.37" y="489.19" font-size="9.3" fill="#000">age</text>
<ellipse cx="225.20" cy="499.26" rx="4.65" ry="3.1" fill="none" stroke="#1a1a1a" stroke-width="1.1"/>
<text x="44.43" y="504.56" font-size="9.3" letter-spacing="0.6" fill="#000">HER2</text>
<ellipse cx="218.00" cy="514.63" rx="4.65" ry="3.1" fill="none" stroke="#1a1a1a" stroke-width="1.1"/>
<text x="44.43" y="519.93" font-size="9.3" letter-spacing="0.6" fill="#000">ER</text>
<ellipse cx="210.80" cy="530.00" rx="4.65" ry="3.1" fill="none" stroke="#1a1a1a" stroke-width="1.1"/>
<text x="44.43" y="535.30" font-size="9.3" letter-spacing="0.6" fill="#000">PR</text>
<ellipse cx="151.95" cy="545.37" rx="4.65" ry="3.1" fill="none" stroke="#1a1a1a" stroke-width="1.1"/>
<text x="44.35" y="550.67" font-size="9.3" fill="#000">chemotherapy</text>
<path d="M115.00,361.10H337.50V560.60H115.00Z" fill="none" stroke="#2b2b2b" stroke-width="1"/>
<line x1="123.50" y1="560.60" x2="123.50" y2="569.70" stroke="#2b2b2b" stroke-width="1"/>
<text x="121.15" y="577.60" font-size="9.2" fill="#000">0</text>
<line x1="180.45" y1="560.60" x2="180.45" y2="569.70" stroke="#2b2b2b" stroke-width="1"/>
<text x="176.51" y="577.60" font-size="9.2" fill="#000">5</text>
<line x1="237.80" y1="560.60" x2="237.80" y2="569.70" stroke="#2b2b2b" stroke-width="1"/>
<text x="234.52" y="577.60" font-size="9.2" fill="#000">10</text>
<line x1="295.20" y1="560.60" x2="295.20" y2="569.70" stroke="#2b2b2b" stroke-width="1"/>
<text x="291.68" y="577.60" font-size="9.2" fill="#000">15</text>
<text x="176.72" y="595.60" font-size="9.4" font-weight="bold" fill="#000">MeanDecreaseGini</text>
<line x1="386.80" y1="557.10" x2="390.00" y2="557.10" stroke="#2b2b2b" stroke-width="1"/>
<text transform="translate(381.00,567.65) rotate(-90) scale(1,0.81)" font-size="12.4" fill="#000">0.200</text>
<line x1="386.80" y1="519.60" x2="390.00" y2="519.60" stroke="#2b2b2b" stroke-width="1"/>
<text transform="translate(381.00,530.04) rotate(-90) scale(1,0.81)" font-size="12.4" fill="#000">0.202</text>
<line x1="386.80" y1="482.10" x2="390.00" y2="482.10" stroke="#2b2b2b" stroke-width="1"/>
<text transform="translate(381.00,492.79) rotate(-90) scale(1,0.81)" font-size="12.4" fill="#000">0.204</text>
<line x1="386.80" y1="444.60" x2="390.00" y2="444.60" stroke="#2b2b2b" stroke-width="1"/>
<text transform="translate(381.00,455.20) rotate(-90) scale(1,0.81)" font-size="12.4" fill="#000">0.206</text>
<line x1="386.80" y1="407.10" x2="390.00" y2="407.10" stroke="#2b2b2b" stroke-width="1"/>
<text transform="translate(381.00,417.65) rotate(-90) scale(1,0.81)" font-size="12.4" fill="#000">0.208</text>
<line x1="386.80" y1="369.60" x2="390.00" y2="369.60" stroke="#2b2b2b" stroke-width="1"/>
<text transform="translate(381.00,380.15) rotate(-90) scale(1,0.81)" font-size="12.4" fill="#000">0.210</text>
<line x1="430.95" y1="560.40" x2="430.95" y2="563.50" stroke="#2b2b2b" stroke-width="1"/>
<text x="427.28" y="572.80" font-size="9.3" fill="#000">2</text>
<line x1="491.25" y1="560.40" x2="491.25" y2="563.50" stroke="#2b2b2b" stroke-width="1"/>
<text x="489.21" y="572.80" font-size="9.3" fill="#000">4</text>
<line x1="551.55" y1="560.40" x2="551.55" y2="563.50" stroke="#2b2b2b" stroke-width="1"/>
<text x="549.46" y="572.80" font-size="9.3" fill="#000">6</text>
<line x1="611.85" y1="560.40" x2="611.85" y2="563.50" stroke="#2b2b2b" stroke-width="1"/>
<text x="609.83" y="572.80" font-size="9.3" fill="#000">8</text>
<line x1="672.15" y1="560.40" x2="672.15" y2="563.50" stroke="#2b2b2b" stroke-width="1"/>
<text x="667.57" y="572.80" font-size="9.3" fill="#000">10</text>
<line x1="393.00" y1="429.95" x2="683.00" y2="429.95" stroke="#a0a0a0" stroke-width="1" stroke-dasharray="1 3"/>
<polyline points="400.50,429.95 431.30,429.95 461.20,429.95 491.30,368.40 521.70,389.40 551.70,430.00 581.80,490.70 611.50,441.00 641.90,389.70 672.30,552.90 680.60,493.90" fill="none" stroke="#111" stroke-width="1.1" stroke-linejoin="round"/>
<circle cx="431.30" cy="429.95" r="1.45" fill="#f00"/>
<circle cx="461.20" cy="429.95" r="1.45" fill="#f00"/>
<circle cx="491.30" cy="368.40" r="1.45" fill="#f00"/>
<circle cx="521.70" cy="389.40" r="1.45" fill="#f00"/>
<circle cx="551.70" cy="430.00" r="1.45" fill="#f00"/>
<circle cx="581.80" cy="490.70" r="1.45" fill="#f00"/>
<circle cx="611.50" cy="441.00" r="1.45" fill="#f00"/>
<circle cx="641.90" cy="389.70" r="1.45" fill="#f00"/>
<circle cx="672.30" cy="552.90" r="1.45" fill="#f00"/>
<path d="M390.00,361.20H683.00V560.40H390.00Z" fill="none" stroke="#2b2b2b" stroke-width="1"/>
<text x="629.98" y="554.20" font-size="8.8" fill="#000">0.2000222</text>
<text transform="translate(357.70,482.07) rotate(-90)" font-size="9.4" font-weight="bold" fill="#000">5x CV Error</text>
<text x="504.46" y="596.20" font-size="9.4" font-weight="bold" fill="#000">Number of Features</text>
</svg>
</body></html>
